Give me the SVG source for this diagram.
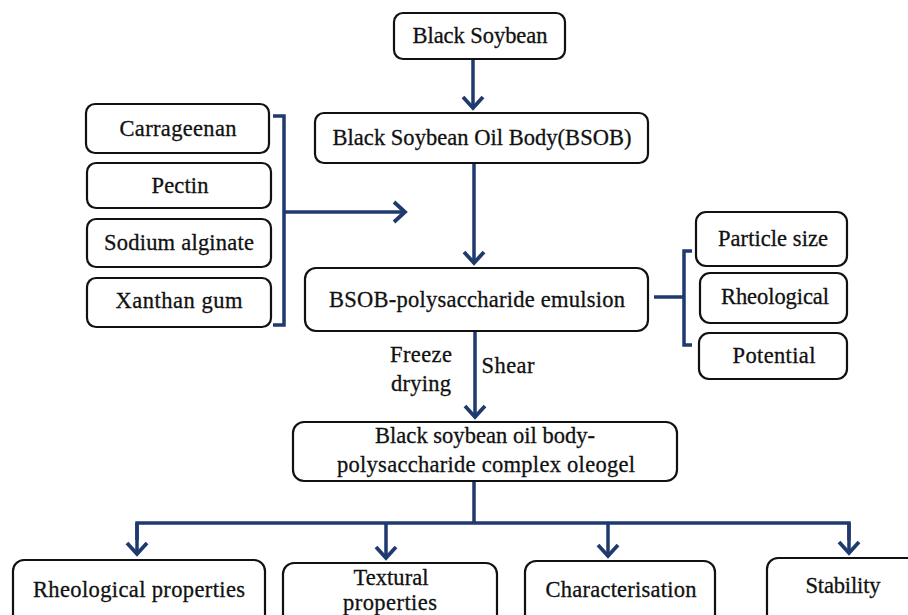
<svg xmlns="http://www.w3.org/2000/svg" width="908" height="615" viewBox="0 0 908 615">
<defs>
<style>
.box{fill:#fff;stroke:#111;stroke-width:2.2}
.t{font-size:22.5px;fill:#111;text-anchor:middle;stroke:#111;stroke-width:0.3}
.c{fill:none;stroke:#1f3a6e;stroke-width:3.5;stroke-linejoin:miter}
.a{marker-end:url(#ah)}
</style>
<marker id="ah" viewBox="-16 -14 20 28" markerWidth="20" markerHeight="28" refX="0" refY="0" orient="auto" markerUnits="userSpaceOnUse">
<path d="M-11,-10 L0,0 L-11,10" fill="none" stroke="#1f3a6e" stroke-width="3.8"/>
</marker>
</defs>
<rect width="908" height="615" fill="#fff"/>
<g id="connectors">
<line class="c a" x1="473" y1="59" x2="473" y2="108"/>
<line class="c a" x1="474" y1="163" x2="474" y2="263"/>
<line class="c a" x1="475" y1="331" x2="475" y2="417"/>
<line class="c" x1="474" y1="481" x2="474" y2="523"/>
<polyline class="c" points="137,540 137,523 849,523 849,540"/>
<line class="c a" x1="137" y1="523" x2="137" y2="554"/>
<line class="c a" x1="386" y1="523" x2="386" y2="558"/>
<line class="c a" x1="608" y1="523" x2="608" y2="556"/>
<line class="c a" x1="849" y1="523" x2="849" y2="553"/>
<polyline class="c" points="273,116 284,116 284,325 273,325"/>
<line class="c a" x1="284" y1="212" x2="405" y2="212"/>
<polyline class="c" points="692,251 684,251 684,345 692,345"/>
<line class="c" x1="654" y1="297" x2="684" y2="297"/>
</g>
<g id="labels" font-family="'Liberation Serif', 'DejaVu Serif', serif">
<text class="t" x="421" y="362" textLength="62">Freeze</text>
<text class="t" x="421" y="391" textLength="60">drying</text>
<text class="t" x="508" y="373" textLength="53">Shear</text>
</g>
<g font-family="'Liberation Serif', 'DejaVu Serif', serif">
<g id="black-soybean">
<rect class="box" x="394" y="13" width="171" height="46" rx="9"/>
<text class="t" x="480" y="43" textLength="135">Black Soybean</text>
</g>
<g id="bsob">
<rect class="box" x="315" y="113" width="333" height="50" rx="9"/>
<text class="t" x="482" y="145" textLength="299">Black Soybean Oil Body(BSOB)</text>
</g>
<g id="carrageenan">
<rect class="box" x="86" y="104" width="183" height="49" rx="9"/>
<text class="t" x="178" y="136" textLength="117">Carrageenan</text>
</g>
<g id="pectin">
<rect class="box" x="87" y="163" width="184" height="45" rx="9"/>
<text class="t" x="180" y="193" textLength="57">Pectin</text>
</g>
<g id="sodium-alginate">
<rect class="box" x="87" y="219" width="184" height="48" rx="9"/>
<text class="t" x="179" y="250" textLength="150">Sodium alginate</text>
</g>
<g id="xanthan-gum">
<rect class="box" x="87" y="278" width="184" height="49" rx="9"/>
<text class="t" x="179" y="308" textLength="127">Xanthan gum</text>
</g>
<g id="emulsion">
<rect class="box" x="305" y="268" width="343" height="63" rx="11"/>
<text class="t" x="477" y="307" textLength="296">BSOB-polysaccharide emulsion</text>
</g>
<g id="particle-size">
<rect class="box" x="696" y="212" width="151" height="54" rx="10"/>
<text class="t" x="773" y="246" textLength="110">Particle size</text>
</g>
<g id="rheological">
<rect class="box" x="700" y="273" width="147" height="50" rx="10"/>
<text class="t" x="775" y="304" textLength="108">Rheological</text>
</g>
<g id="potential">
<rect class="box" x="699" y="333" width="148" height="46" rx="10"/>
<text class="t" x="774" y="363" textLength="83">Potential</text>
</g>
<g id="oleogel">
<rect class="box" x="293" y="422" width="384" height="59" rx="11"/>
<text class="t" x="485" y="443" textLength="220">Black soybean oil body-</text>
<text class="t" x="486" y="472" textLength="298">polysaccharide complex oleogel</text>
</g>
<g id="rheological-properties">
<rect class="box" x="13" y="560" width="252" height="70" rx="11"/>
<text class="t" x="139" y="597" textLength="212">Rheological properties</text>
</g>
<g id="textural-properties">
<rect class="box" x="283" y="563" width="214" height="70" rx="11"/>
<text class="t" x="391" y="585" textLength="75">Textural</text>
<text class="t" x="390" y="610" textLength="94">properties</text>
</g>
<g id="characterisation">
<rect class="box" x="525" y="561" width="190" height="70" rx="11"/>
<text class="t" x="621" y="597" textLength="151">Characterisation</text>
</g>
<g id="stability">
<rect class="box" x="767" y="558" width="155" height="70" rx="11"/>
<text class="t" x="843" y="593" textLength="75">Stability</text>
</g>
</g>
</svg>
